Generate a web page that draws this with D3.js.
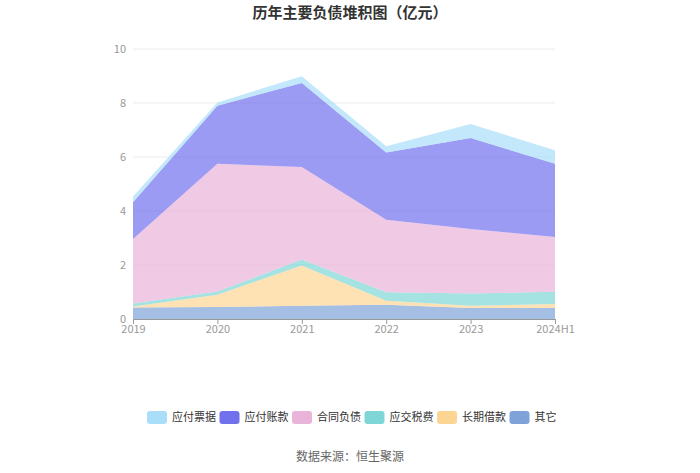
<!DOCTYPE html>
<html><head><meta charset="utf-8">
<script src="https://cdn.jsdelivr.net/npm/d3@7"></script>
<style>body{margin:0;background:#fff;font-family:"Noto Sans CJK SC","Noto Sans",sans-serif;}</style>
</head><body><svg id="c" width="700" height="473"></svg>
<script>
const categories = ["2019","2020","2021","2022","2023","2024H1"];
const seriesNames = ["其它","长期借款","应交税费","合同负债","应付账款","应付票据"];
const qita    = [0.43,0.44,0.49,0.53,0.41,0.41];
const changqi = [0.03,0.46,1.49,0.15,0.08,0.15];
const yingjiao= [0.11,0.12,0.22,0.31,0.45,0.45];
const hetong  = [2.39,4.73,3.43,2.69,2.39,2.03];
const zhangkuan=[1.36,2.15,3.11,2.49,3.37,2.71];
const piaoju  = [0.22,0.12,0.25,0.23,0.52,0.50];
const yTicks = [0,2,4,6,8,10];
const legendOrder = ["应付票据","应付账款","合同负债","应交税费","长期借款","其它"];
const colors = {"应付票据":"#a9def9","应付账款":"#7171ee","合同负债":"#e9b3da","应交税费":"#7fd6d6","长期借款":"#fdd593","其它":"#7fa3d9"};
const seriesData = {"其它":qita,"长期借款":changqi,"应交税费":yingjiao,"合同负债":hetong,"应付账款":zhangkuan,"应付票据":piaoju};

const svg = d3.select("#c");
const x = d3.scalePoint().domain(categories).range([133,555]);
const y = d3.scaleLinear().domain([0,10]).range([319,49]);

const rows = categories.map((c,i)=>{const r={cat:c}; seriesNames.forEach(s=>r[s]=seriesData[s][i]); return r;});
const stacked = d3.stack().keys(seriesNames)(rows);

// grid
svg.append("g").selectAll("line").data(yTicks.filter(t=>t>0)).join("line")
  .attr("x1",133).attr("x2",555).attr("y1",d=>y(d)).attr("y2",d=>y(d))
  .attr("stroke","#ebebeb").attr("stroke-width",1);

const area = d3.area().x(d=>x(d.data.cat)).y0(d=>y(d[0])).y1(d=>y(d[1]));
svg.append("g").selectAll("path").data(stacked).join("path")
  .attr("d",area).attr("fill",d=>colors[d.key]).attr("fill-opacity",0.7).attr("stroke","none");

// y labels
svg.append("g").selectAll("text").data(yTicks).join("text")
  .attr("x",126).attr("y",d=>y(d)).attr("dy","0.35em").attr("text-anchor","end")
  .attr("font-size",11).attr("fill","#999").text(d=>d);

// x axis
const xa = svg.append("g").attr("transform","translate(0,319)")
  .call(d3.axisBottom(x).tickSize(5).tickSizeOuter(0));
xa.select(".domain").attr("stroke","#999");
xa.selectAll(".tick line").attr("stroke","#999");
xa.selectAll(".tick text").attr("fill","#999").attr("font-size",11).attr("dy","0.55em")
  .attr("font-family","'Noto Sans CJK SC','Noto Sans',sans-serif");

// title
svg.append("text").attr("x",350).attr("y",18).attr("text-anchor","middle")
  .attr("font-size",15).attr("font-weight","bold").attr("fill","#333").text("历年主要负债堆积图（亿元）");

// legend
const lg = svg.append("g").selectAll("g").data(legendOrder).join("g")
  .attr("transform",(d,i)=>`translate(${147+i*72.5},411)`);
lg.append("rect").attr("width",20).attr("height",13).attr("rx",3).attr("fill",d=>colors[d]);
lg.append("text").attr("x",25).attr("y",6.5).attr("dy","0.35em").attr("font-size",11).attr("fill","#333").text(d=>d);

svg.append("text").attr("x",350).attr("y",461).attr("text-anchor","middle")
  .attr("font-size",12).attr("fill","#666").text("数据来源：恒生聚源");
</script></body></html>
